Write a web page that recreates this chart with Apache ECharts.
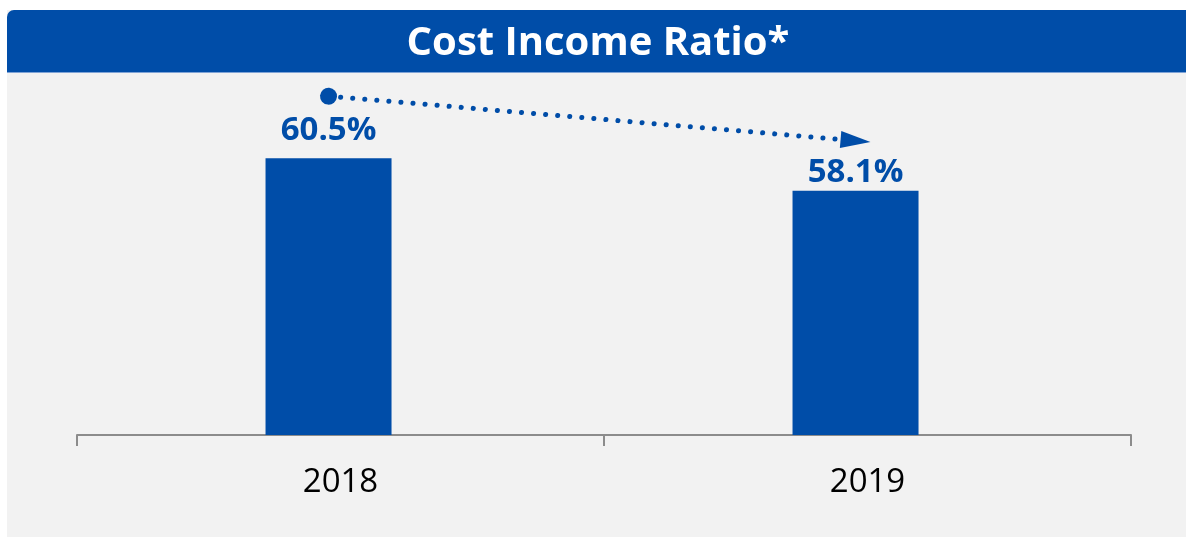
<!DOCTYPE html>
<html>
<head>
<meta charset="utf-8">
<script src="https://cdn.jsdelivr.net/npm/echarts@6/dist/echarts.min.js"></script>
<style>
html,body{margin:0;padding:0;background:#ffffff;}
#chart{width:1186px;height:538px;}
</style>
</head>
<body>
<div id="chart"></div>
<script>
const titleText = 'Cost Income Ratio*';
const categories = ['2018', '2019'];
const ratioValues = [60.5, 58.1];
const trendStart = ['2018', 65.1];
const trendEnd = ['2019', 61.8];

const BLUE = '#004DA8';
const labelDistances = [11, 2];

const chart = echarts.init(document.getElementById('chart'), null, {renderer: 'canvas'});

const option = {
  backgroundColor: '#ffffff',
  animation: false,
  graphic: [
    {type: 'rect', z: -10, silent: true, shape: {x: 7, y: 10, width: 1200, height: 527}, style: {fill: '#F2F2F2'}},
    {type: 'rect', z: -9, silent: true, shape: {x: 7, y: 10, width: 1200, height: 62, r: [7, 0, 0, 0]}, style: {fill: BLUE}},
    {type: 'rect', z: -9, silent: true, shape: {x: 7, y: 72, width: 1200, height: 1}, style: {fill: '#7FA3D6'}}
  ],
  title: {
    text: titleText,
    left: 593,
    top: 19,
    textAlign: 'center',
    textStyle: {color: '#ffffff', fontFamily: 'Open Sans', fontWeight: 'bold', fontSize: 40}
  },
  grid: {left: 77, right: 55, top: 84, bottom: 103, containLabel: false},
  xAxis: {
    type: 'category',
    data: categories,
    axisLine: {show: true, lineStyle: {color: '#8C8C8C', width: 2}},
    axisTick: {show: true, length: 11, lineStyle: {color: '#8C8C8C', width: 2}},
    axisLabel: {color: '#000000', fontFamily: 'Open Sans', fontSize: 33, margin: 31},
    splitLine: {show: false}
  },
  yAxis: {
    type: 'value',
    min: 40,
    max: 66,
    show: false,
    splitLine: {show: false}
  },
  series: [
    {
      type: 'bar',
      name: 'Cost Income Ratio',
      barWidth: 126,
      barGap: '-81%',
      itemStyle: {color: BLUE},
      data: ratioValues.map((v, i) => ({
        value: v,
        label: {distance: labelDistances[i]}
      })),
      label: {
        show: true,
        position: 'top',
        formatter: p => p.value.toFixed(1) + '%',
        color: BLUE,
        fontFamily: 'Open Sans',
        fontWeight: 'bold',
        fontSize: 33
      },
      markLine: {
        silent: true,
        animation: false,
        label: {show: false},
        lineStyle: {color: BLUE, width: 5, type: [0.1, 12], cap: 'round', opacity: 1},
        data: [[
          {coord: trendStart, symbol: 'circle', symbolSize: 17},
          {coord: trendEnd, symbol: 'path://M5,0L10,17L0,17Z', symbolSize: [17, 30]}
        ]]
      }
    },
    {
      type: 'bar',
      name: 'spacer',
      barWidth: 126,
      silent: true,
      itemStyle: {color: 'transparent'},
      data: categories.map(() => null)
    }
  ]
};
chart.setOption(option);
</script>
</body>
</html>
